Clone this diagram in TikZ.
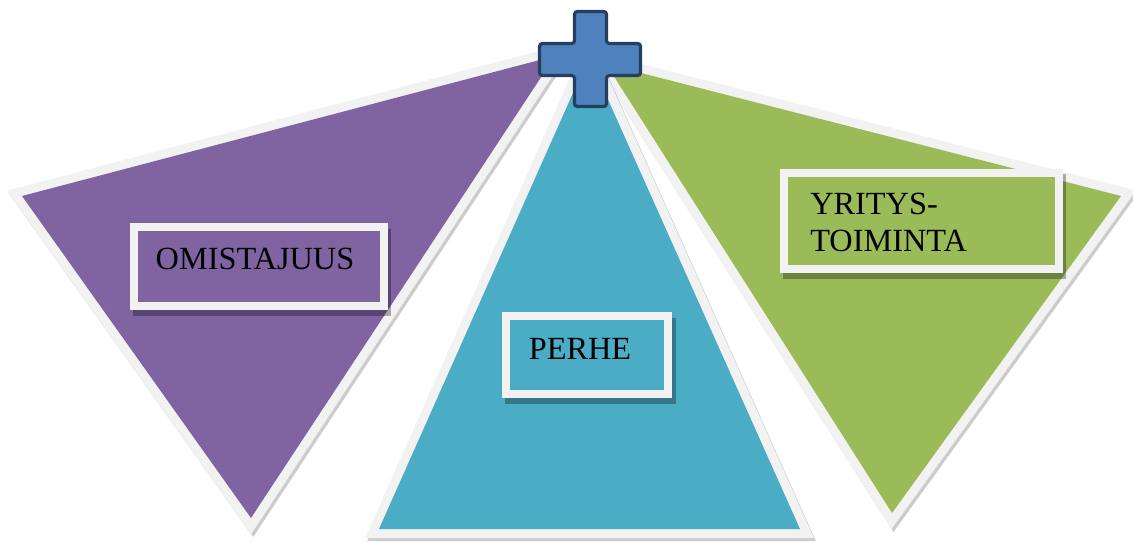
\documentclass[tikz,border=0pt]{standalone}
\usepackage{fontspec}
\setmainfont{Liberation Serif}
\usepackage{tikz}
\usetikzlibrary{
	calc,
	shapes}

\definecolor{omPurple}{HTML}{8064A2}
\definecolor{peBlue}{HTML}{4BACC6}
\definecolor{ytGreen}{HTML}{9BBB59}
\definecolor{crossFill}{HTML}{4F81BD}
\definecolor{crossEdge}{HTML}{243F60}
\definecolor{rim}{HTML}{F2F2F2}

\begin{document}
\begin{tikzpicture}[x=0.025cm,y=-0.025cm,
    triShadow/.style={draw=black,fill=black,line width=0.45cm,line join=miter,opacity=0.2},
    triRim/.style={draw=rim,line width=0.45cm,line join=miter},
    boxShadow/.style={fill=black,opacity=0.3},
    labelbox/.style={draw=rim,line width=0.2cm,inner sep=0pt,outer sep=0pt},
    labeltext/.style={font=\fontsize{23}{26.3}\selectfont,inner sep=0pt,align=left}]
  \useasboundingbox (0,0) rectangle (1133,541);

  % the three triangles, blue one last
  \foreach \ax/\ay/\bx/\by/\cx/\cy/\col in {
      22/196/555/56/251/518/omPurple,
      606/64/1121/196/892/513/ytGreen,
      589/57/379/529/800/529/peBlue}{
    \draw[triShadow] (\ax+2,\ay+3) -- (\bx+2,\by+3) -- (\cx+2,\cy+3) -- cycle;
    \draw[triRim] (\ax,\ay) -- (\bx,\by) -- (\cx,\cy) -- cycle;
    \fill[\col] (\ax,\ay) -- (\bx,\by) -- (\cx,\cy) -- cycle;
  }

  % plus sign on top
  \draw[fill=crossFill,draw=crossEdge,line width=0.08cm,rounded corners=2pt]
    (574.5,11.5) -- (606.5,11.5) -- (606.5,43.5) -- (640.5,43.5) -- (640.5,75.5)
    -- (606.5,75.5) -- (606.5,106.5) -- (574.5,106.5) -- (574.5,75.5)
    -- (539.5,75.5) -- (539.5,43.5) -- (574.5,43.5) -- cycle;

  \fill[boxShadow] (133,229) rectangle (391,316);
  \fill[boxShadow] (505,318) rectangle (676,404);
  \fill[boxShadow] (783,174) rectangle (1066,279);

  \node[labelbox,fill=omPurple,minimum width=6.25cm,minimum height=1.975cm] (OMbox) at (259,266.5) {};
  \node[labelbox,fill=peBlue,minimum width=4.06cm,minimum height=1.95cm] (PEbox) at (587,355) {};
  \node[labelbox,fill=ytGreen,minimum width=6.875cm,minimum height=2.41cm] (YTbox) at (921.5,220.75) {};

  \node[labeltext] (OM) at (255,259) {OMISTAJUUS};
  \node[labeltext] (PE) at (580,349) {PERHE};
  \node[labeltext,anchor=west] (YT) at (810,222.5) {YRITYS-\\TOIMINTA};
\end{tikzpicture}
\end{document}
